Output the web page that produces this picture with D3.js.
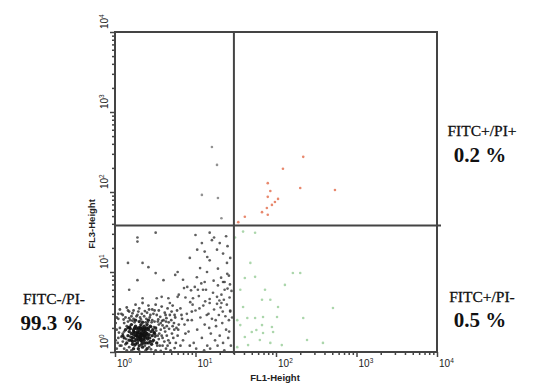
<!DOCTYPE html>
<html><head><meta charset="utf-8">
<script src="https://cdn.jsdelivr.net/npm/d3@7"></script>
<style>body{margin:0;background:#fff}</style>
</head><body><svg id="c" width="538" height="392"></svg>
<script>
// ---- data ----
const decades = [1, 10, 100, 1000, 10000];
const decadeExp = ["0", "1", "2", "3", "4"];
const xLabel = "FL1-Height";
const yLabel = "FL3-Height";
const gateFL1 = 30;
const gateFL3 = 38;
const quadrantNames = ["FITC+/PI+", "FITC+/PI-", "FITC-/PI-"];
const quadrantPct = ["0.2 %", "0.5 %", "99.3 %"];

const llCore = [[1.8,1.6],[2.0,1.5],[2.1,1.7],[1.9,1.8],[2.2,1.6],[2.0,1.9],[1.7,1.5],[2.3,1.8],[2.1,1.4],[1.9,1.3],[2.4,1.5],[1.6,1.7],[2.2,2.0],[1.8,2.1],[2.5,1.7],[2.0,1.2],[1.7,1.9],[2.6,1.9],[2.3,1.3],[1.5,1.4],[2.1,2.2],[1.9,1.55],[2.05,1.65],[1.85,1.45],[2.15,1.85],[2.35,1.6],[1.75,1.75],[1.95,2.0],[2.25,1.45],[2.45,2.0],[1.65,1.25],[2.7,1.5],[2.8,1.8],[1.55,1.95],[2.0,2.4],[2.6,1.3],[1.45,1.6],[2.9,1.6],[1.8,1.25],[2.5,2.2],[1.6,2.2],[2.2,1.15],[2.4,1.75],[1.9,1.7],[2.1,1.5],[2.0,1.75],[1.85,1.6],[2.3,1.55],[1.7,1.65],[2.15,1.35],[2.55,1.45],[1.95,1.4],[2.05,2.05],[1.75,2.0],[2.35,1.95],[2.65,1.65],[1.5,1.8],[2.45,1.3],[3.0,1.4],[1.4,1.3],[2.2,1.7],[1.98,1.58],[2.08,1.52],[1.88,1.72],[2.12,1.62],[2.28,1.68],[1.78,1.38],[2.4,1.9],[1.62,1.52],[2.75,2.1],[1.52,2.05],[2.95,1.9],[3.1,1.7],[1.35,1.9],[2.2,2.35],[1.8,2.5],[2.6,2.5],[3.2,2.0],[1.3,1.5],[2.5,1.1],[1.7,1.1],[3.3,1.3],[2.85,1.25],[1.6,1.4],[2.3,2.1],[2.1,1.95],[2.25,1.9],[2.55,1.55],[1.95,1.1],[1.45,2.0],[1.25,1.6],[2.75,1.35],[3.05,1.75],[1.65,1.35],[2.45,1.65],[2.15,1.25],[1.85,1.95],[2.05,1.45],[2.3,1.4],[1.7,1.8],[2.6,2.0]];
const llHalo = [[1.05,1.1],[1.1,1.5],[1.15,2.0],[1.2,1.2],[1.1,2.6],[1.25,1.7],[1.3,2.3],[1.2,3.0],[1.05,1.9],[1.4,1.05],[1.35,2.7],[1.5,3.2],[1.45,2.4],[1.6,2.8],[1.7,3.3],[1.9,2.9],[2.0,3.5],[2.3,2.8],[2.5,3.1],[2.7,2.7],[2.9,3.4],[3.1,2.4],[3.3,2.9],[3.5,2.2],[3.7,1.9],[3.4,1.6],[3.6,1.2],[3.9,1.5],[4.2,1.8],[4.0,2.5],[4.4,2.1],[4.6,1.4],[4.8,2.9],[5.1,1.7],[5.4,2.3],[5.7,1.3],[5.9,3.3],[5.2,3.8],[4.5,3.5],[3.8,3.7],[3.2,3.9],[2.6,3.8],[2.2,4.1],[1.8,3.9],[1.4,3.6],[1.15,3.4],[1.02,2.3],[1.08,1.3],[1.3,1.1],[1.6,1.05],[2.0,1.02],[2.4,1.05],[2.8,1.08],[3.2,1.05],[3.7,1.03],[4.3,1.1],[4.9,1.05],[5.5,1.12],[1.25,1.35],[1.4,2.1],[1.55,2.5],[1.75,2.35],[2.85,2.35],[3.05,2.05],[3.25,1.85],[3.45,2.55],[3.65,2.75],[3.9,2.15],[4.1,1.35],[4.35,2.65],[4.7,1.95],[5.0,2.5],[5.3,1.5],[5.8,2.0],[2.65,3.4],[2.05,2.7],[1.65,3.05],[1.28,2.55],[1.12,1.75],[3.0,3.0],[3.5,3.3],[4.15,3.1],[4.65,2.35],[2.35,3.25],[1.95,3.2],[1.5,2.65],[2.8,2.05],[3.15,1.55],[3.55,1.7],[1.2,1.55],[1.38,1.45],[2.45,2.6],[2.95,1.35],[3.35,1.2],[3.8,1.6],[4.5,1.2],[5.6,2.7],[6.0,1.6],[6.2,2.2],[1.02,1.4],[1.1,3.0],[1.7,2.6],[2.15,3.0],[2.55,2.35],[3.85,2.45],[4.25,2.9],[5.05,3.2],[5.45,1.9],[6.5,1.2],[6.8,2.6],[1.15,1.2],[1.3,1.8],[1.5,1.15],[1.65,2.45],[1.85,2.8],[2.1,2.55],[2.4,2.35],[2.75,2.9],[3.1,3.3],[3.4,2.4],[3.7,2.3],[4.1,2.0],[4.4,1.6],[4.8,1.3],[5.2,2.1],[5.5,2.9],[6.1,1.9],[6.7,2.9],[7.5,1.7],[8.0,2.5],[8.5,1.2],[9.0,3.2],[1.25,2.9],[1.45,3.3],[1.05,2.7],[1.35,1.25],[1.55,1.55],[1.75,1.2],[2.35,1.2],[2.65,1.15],[2.9,2.5],[3.2,1.6],[3.5,1.45],[3.9,1.2],[4.3,2.4]];
const llSpread = [[6.5,3.5],[7.0,1.4],[7.3,2.2],[7.8,3.0],[8.2,1.8],[8.6,4.2],[9.0,2.5],[9.5,1.3],[10,3.3],[10.5,1.9],[11,5.0],[11.5,2.7],[12,1.5],[12.5,3.8],[13,2.2],[13.5,6.0],[14,1.2],[14.5,3.0],[15,4.6],[15.5,1.7],[16,2.6],[16.5,5.5],[17,3.4],[17.5,1.4],[18,2.1],[18.5,4.0],[19,6.8],[19.5,2.9],[20,1.6],[20.5,3.6],[21,5.2],[21.5,2.3],[22,1.3],[22.5,4.5],[23,7.5],[23.5,2.8],[24,1.9],[24.5,3.9],[25,6.2],[25.5,1.5],[26,2.5],[26.5,4.8],[27,3.2],[27.5,1.2],[28,5.8],[7.5,4.8],[8.8,5.9],[9.8,6.5],[11.8,7.2],[13.2,4.3],[16.8,7.8],[20.8,8.5],[24.8,9.5],[26.8,7.0],[6.2,5.2],[7.2,6.3],[10.2,1.1],[12.8,1.05],[15.2,1.1],[18.8,1.2],[22.8,1.05],[9.2,3.9],[14.8,2.0],[17.8,2.5],[21.8,3.2],[26.2,1.8],[28.5,2.7],[19.8,4.4],[11.2,3.5],[13.8,2.9]];
const llUpper = [[1.9,27],[1.9,24],[3.2,31],[10,29],[15,31],[16,25],[20,23],[10.5,19],[13,18],[14,15.4],[18.5,19],[24.6,13],[1.45,13],[2.2,13],[2.6,11.5],[6.0,10],[5.6,9.2],[4.0,7.9],[3.2,9.7],[1.9,7.9],[11.4,11.2],[13.9,10],[15,14],[10.4,8.6],[13,7.5],[7.9,6.5],[10.7,6],[22,7.5],[23,6],[1.5,6],[2.2,4.7],[3.3,4.7],[3.8,4.9],[4.6,4.7],[6,4.9],[4.8,4.1],[9.3,4.7],[12.4,6],[15,4.1],[21,4.1],[18.5,4.9],[27,3.3],[17,27],[22,17],[25,21],[12,23],[8.5,15],[26,9],[19,11],[7,8],[24,28],[27,15]];
const ulPoints = [[16,365],[18.5,218],[12,92],[19,84],[21,47]];
const urPoints = [[218,275],[122,195],[79,129],[85,103],[200,112],[540,106],[79,87],[97,75],[89,69],[77,63],[67,56],[79,52],[41,49],[34,42],[106,82]];
const lrPoints = [[31,27],[39,32],[55,31],[41,8.4],[55,8.7],[162,9.7],[200,9.7],[73,6.0],[67,4.5],[85,4.5],[39,3.65],[106,3.65],[510,3.55],[44,2.66],[55,2.66],[69,2.74],[103,2.74],[218,2.66],[33,2.5],[67,2.17],[89,2.05],[50,1.78],[69,1.73],[92,1.78],[41,1.54],[63,1.41],[243,1.41],[383,1.3],[85,1.3],[118,1.22],[33,1.15],[36,6.0],[48,13],[129,6.9],[45,1.22],[57,1.88],[36,2.17]];

// ---- scales ----
const svg = d3.select("#c");
const L = 115, R = 437, T = 32, B = 352;
const x = d3.scaleLog().domain([1, 10000]).range([L, R]);
const y = d3.scaleLog().domain([1, 10000]).range([B, T]);

const minor = [];
decades.slice(0, 4).forEach(d => { for (let k = 2; k <= 9; k++) minor.push(d * k); });

// points
function dots(data, color, op, r) {
  svg.append("g").selectAll("circle").data(data).join("circle")
    .attr("cx", d => x(d[0])).attr("cy", d => y(d[1]))
    .attr("r", r).attr("fill", color).attr("fill-opacity", op);
}
dots(llSpread, "#2a2a2a", 0.75, 1.35);
dots(llUpper, "#2a2a2a", 0.75, 1.35);
dots(llHalo, "#2a2a2a", 0.8, 1.4);
dots(llCore, "#111", 0.9, 1.7);
dots(ulPoints, "#777", 0.8, 1.3);
dots(urPoints, "#e0603c", 0.75, 1.3);
dots(lrPoints, "#8fc88f", 0.75, 1.3);

// axes (ticks)
const ax = svg.append("g").attr("transform", `translate(0,${B})`)
  .call(d3.axisBottom(x).tickValues(minor).tickSize(3).tickFormat(""));
const ax2 = svg.append("g").attr("transform", `translate(0,${B})`)
  .call(d3.axisBottom(x).tickValues(decades).tickSize(5).tickFormat(""));
const ay = svg.append("g").attr("transform", `translate(${L},0)`)
  .call(d3.axisLeft(y).tickValues(minor).tickSize(3).tickFormat(""));
const ay2 = svg.append("g").attr("transform", `translate(${L},0)`)
  .call(d3.axisLeft(y).tickValues(decades).tickSize(5).tickFormat(""));
[ax, ax2, ay, ay2].forEach(g => {
  g.select(".domain").remove();
  g.selectAll("line").attr("stroke", "#444").attr("stroke-width", 1.5);
});

// frame & gates
svg.append("rect").attr("x", L).attr("y", T).attr("width", R - L).attr("height", B - T)
  .attr("fill", "none").attr("stroke", "#444").attr("stroke-width", 2);
svg.append("line").attr("x1", x(gateFL1)).attr("x2", x(gateFL1)).attr("y1", T).attr("y2", B + 2)
  .attr("stroke", "#444").attr("stroke-width", 2);
svg.append("line").attr("x1", L).attr("x2", R + 4).attr("y1", y(gateFL3)).attr("y2", y(gateFL3))
  .attr("stroke", "#444").attr("stroke-width", 2);

// tick labels
const tf = "'Liberation Sans', Arial, sans-serif";
decades.forEach((v, i) => {
  const t = svg.append("text").attr("x", x(v) + 2).attr("y", 367)
    .attr("font-family", tf).attr("font-size", 10).attr("fill", "#222");
  t.append("tspan").text("10");
  t.append("tspan").attr("dy", -4).attr("font-size", 6.5).text(decadeExp[i]);
  const t2 = svg.append("text").attr("transform", `translate(108,${y(v) - 3}) rotate(-90)`)
    .attr("font-family", tf).attr("font-size", 10).attr("fill", "#222");
  t2.append("tspan").text("10");
  t2.append("tspan").attr("dy", -4).attr("font-size", 6.5).text(decadeExp[i]);
});

svg.append("text").attr("x", 275).attr("y", 381).attr("text-anchor", "middle")
  .attr("font-family", "'Liberation Sans Narrow', 'Liberation Sans', Arial, sans-serif")
  .attr("font-weight", "bold").attr("font-size", 9.5).attr("fill", "#222").text(xLabel);
svg.append("text").attr("transform", "translate(95,224) rotate(-90)").attr("text-anchor", "middle")
  .attr("font-family", "'Liberation Sans Narrow', 'Liberation Sans', Arial, sans-serif")
  .attr("font-weight", "bold").attr("font-size", 9.5).attr("fill", "#222").text(yLabel);

// quadrant annotations
const sf = "'Liberation Serif', 'Times New Roman', serif";
const pos = [[482, 136, 162], [482, 302, 327], [54, 304, 330]];
pos.forEach((p, i) => {
  svg.append("text").attr("x", p[0]).attr("y", p[1]).attr("text-anchor", "middle")
    .attr("font-family", sf).attr("font-size", 15.5).attr("fill", "#111").attr("stroke", "#111").attr("stroke-width", 0.3).text(quadrantNames[i]);
  svg.append("text").attr("x", p[0] - 2).attr("y", p[2]).attr("text-anchor", "middle")
    .attr("font-family", sf).attr("font-weight", "bold").attr("font-size", 21).attr("fill", "#111").text(quadrantPct[i]);
});
</script></body></html>
